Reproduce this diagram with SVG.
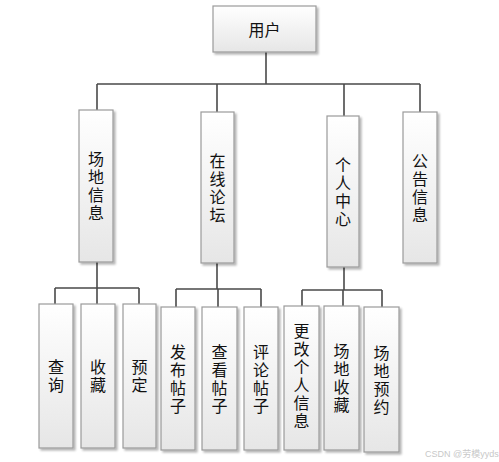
<svg xmlns="http://www.w3.org/2000/svg" width="499" height="462" viewBox="0 0 499 462">
<defs>
<linearGradient id="g" x1="0" y1="0" x2="0" y2="1">
<stop offset="0" stop-color="#ffffff"/>
<stop offset="1" stop-color="#e6e6e6"/>
</linearGradient>
<filter id="sh" x="-20%" y="-20%" width="140%" height="140%">
<feGaussianBlur in="SourceAlpha" stdDeviation="1"/>
<feOffset dx="1.5" dy="1.5" result="b"/>
<feComponentTransfer><feFuncA type="linear" slope="0.3"/></feComponentTransfer>
<feMerge><feMergeNode/><feMergeNode in="SourceGraphic"/></feMerge>
</filter>
</defs>
<style>
.box{fill:url(#g);stroke:#9a9a9a;stroke-width:1.2;filter:url(#sh)}
.t{font-family:"Noto Sans CJK SC","Noto Sans",sans-serif;font-size:16px;fill:#111;text-anchor:middle;dominant-baseline:central}
.v{font-family:"Noto Sans CJK SC","Noto Sans",sans-serif;font-size:16px;fill:#111;text-anchor:middle;writing-mode:vertical-rl;text-orientation:upright;letter-spacing:2px}
.c{fill:none;stroke:#4a4a4a;stroke-width:1.6}
.wm{font-family:"Liberation Sans","Noto Sans CJK SC",sans-serif;font-size:9px;fill:#c8c8c8}
</style>
<rect width="499" height="462" fill="#ffffff"/>
<g id="connectors">
<path class="c" d="M266 52V84M97 84H420M97 84V110M217 84V112M344 84V116M420 84V112"/>
<path class="c" d="M97 262V288M55 288H139M55 288V304M97 288V304M139 288V304"/>
<path class="c" d="M217 263V289M176 289H261M176 289V307M218 289V307M261 289V307"/>
<path class="c" d="M344 267V290M302 290H382M302 290V306M343 290V306M382 290V307"/>
</g>
<g id="n-user"><rect class="box" x="213" y="6" width="103" height="46"/><text class="t" x="264.5" y="29">用户</text></g>
<g id="n-venue"><rect class="box" x="79" y="110" width="34" height="152"/><text class="v" x="96" y="187">场地信息</text></g>
<g id="n-forum"><rect class="box" x="201" y="112" width="33" height="151"/><text class="v" x="217.5" y="188.5">在线论坛</text></g>
<g id="n-personal"><rect class="box" x="327" y="116" width="32" height="151"/><text class="v" x="343" y="192.5">个人中心</text></g>
<g id="n-notice"><rect class="box" x="403" y="112" width="34" height="151"/><text class="v" x="420" y="188.5">公告信息</text></g>
<g id="n-query"><rect class="box" x="39" y="304" width="34" height="144"/><text class="v" x="56" y="377">查询</text></g>
<g id="n-fav"><rect class="box" x="81" y="304" width="34" height="144"/><text class="v" x="98" y="377">收藏</text></g>
<g id="n-book"><rect class="box" x="123" y="304" width="33" height="144"/><text class="v" x="139.5" y="377">预定</text></g>
<g id="n-post"><rect class="box" x="161" y="307" width="34" height="143"/><text class="v" x="178" y="379.5">发布帖子</text></g>
<g id="n-view"><rect class="box" x="202" y="307" width="35" height="143"/><text class="v" x="219.5" y="379.5">查看帖子</text></g>
<g id="n-comment"><rect class="box" x="244" y="307" width="34" height="143"/><text class="v" x="261" y="379.5">评论帖子</text></g>
<g id="n-edit"><rect class="box" x="284" y="306" width="35" height="144"/><text class="v" x="301.5" y="376.5">更改个人信息</text></g>
<g id="n-vfav"><rect class="box" x="324" y="306" width="35" height="144"/><text class="v" x="341.5" y="379">场地收藏</text></g>
<g id="n-vbook"><rect class="box" x="364" y="307" width="35" height="145"/><text class="v" x="381.5" y="380.5">场地预约</text></g>
<text class="wm" x="425" y="457">CSDN @劳模yyds</text>
</svg>
